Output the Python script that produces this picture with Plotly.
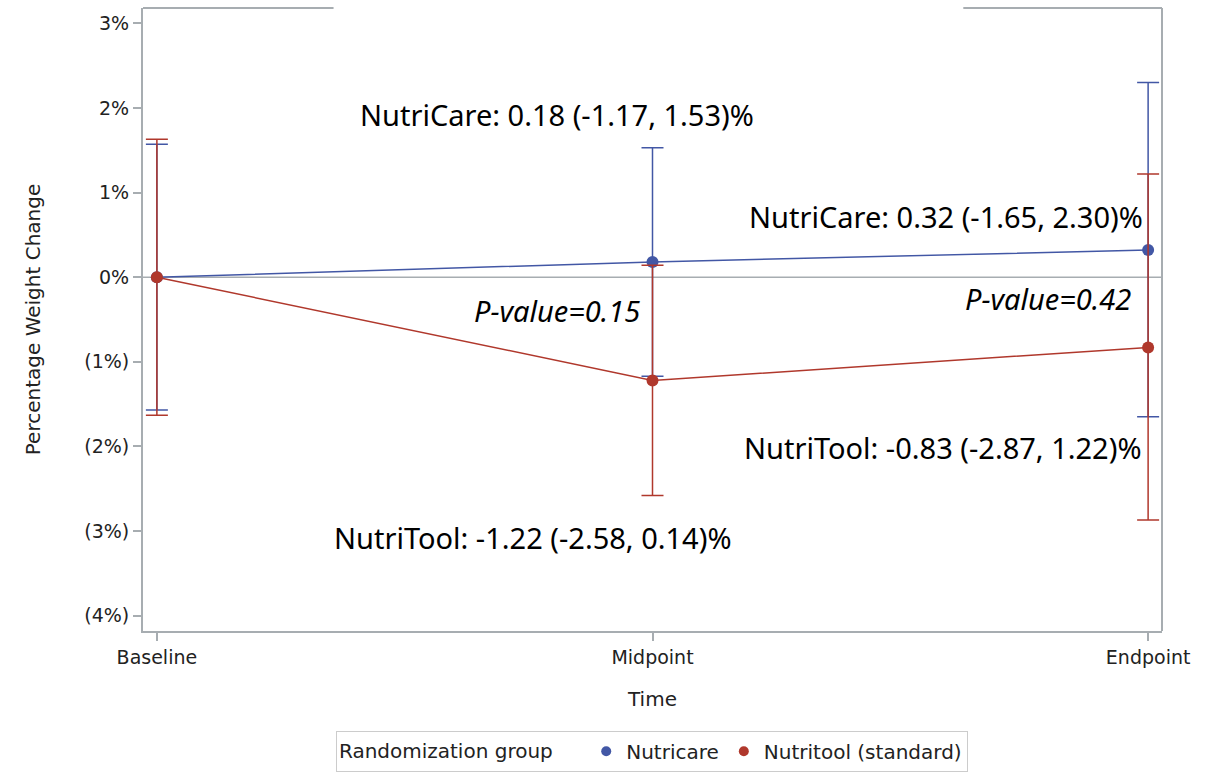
import plotly.graph_objects as go

times = ["Baseline", "Midpoint", "Endpoint"]
care_mean = [0.0, 0.18, 0.32]
care_lo = [-1.57, -1.17, -1.65]
care_hi = [1.57, 1.53, 2.30]
tool_mean = [0.0, -1.22, -0.83]
tool_lo = [-1.63, -2.58, -2.87]
tool_hi = [1.63, 0.14, 1.22]
yticks = [3, 2, 1, 0, -1, -2, -3, -4]
ytick_text = ["3%", "2%", "1%", "0%", "(1%)", "(2%)", "(3%)", "(4%)"]

BLUE = "#4257a5"
RED = "#b0382c"
GRID = "#a7adb1"
TXT = "#222222"
xs = [0, 1, 2]

fig = go.Figure()
series = [
    ("Nutricare", care_mean, care_lo, care_hi, BLUE),
    ("Nutritool (standard)", tool_mean, tool_lo, tool_hi, RED),
]
for name, m, lo, hi, col in series:
    fig.add_trace(go.Scatter(
        x=xs, y=m, name=name, mode="lines+markers", showlegend=False,
        line=dict(color=col, width=1.5),
        marker=dict(color=col, size=12),
        error_y=dict(type="data", symmetric=False,
                     array=[h - v for h, v in zip(hi, m)],
                     arrayminus=[v - l for l, v in zip(lo, m)],
                     color=col, thickness=1.5, width=11),
    ))
for name, m, lo, hi, col in series:
    fig.add_trace(go.Scatter(
        x=[None], y=[None], name=name, mode="markers",
        marker=dict(color=col, size=10),
    ))

fig.add_shape(type="line", xref="paper", yref="y", x0=0, x1=1, y0=0, y1=0,
              line=dict(color=GRID, width=1.5), layer="below")
# frame: right and split top
fig.add_shape(type="line", xref="paper", yref="paper", x0=1, x1=1, y0=0, y1=1,
              line=dict(color=GRID, width=2))
fig.add_shape(type="line", xref="paper", yref="paper", x0=0, x1=0.187, y0=1, y1=1,
              line=dict(color=GRID, width=2))
fig.add_shape(type="line", xref="paper", yref="paper", x0=0.805, x1=1, y0=1, y1=1,
              line=dict(color=GRID, width=2))

AF = "Noto Sans"
ann = [
    (0.807, 1.92, "NutriCare: 0.18 (-1.17, 1.53)%"),
    (1.592, 0.72, "NutriCare: 0.32 (-1.65, 2.30)%"),
    (0.807, -0.39, "<i>P-value=0.15</i>"),
    (1.798, -0.25, "<i>P-value=0.42</i>"),
    (1.586, -2.01, "NutriTool: -0.83 (-2.87, 1.22)%"),
    (0.759, -3.08, "NutriTool: -1.22 (-2.58, 0.14)%"),
]
for x, y, t in ann:
    fig.add_annotation(x=x, y=y, xref="x", yref="y", text=t, showarrow=False,
                       font=dict(family=AF, size=29, color="black"))

TF = "DejaVu Sans"
fig.update_layout(
    width=1214, height=774,
    margin=dict(l=143, r=52, t=8, b=143),
    paper_bgcolor="white", plot_bgcolor="white",
    font=dict(family=TF, color=TXT),
    showlegend=True,
    legend=dict(orientation="h", x=0.537, xref="container", xanchor="center",
                y=0.003, yref="container", yanchor="bottom",
                title=dict(text="Randomization group    ", font=dict(family=TF, size=20, color=TXT)),
                font=dict(family=TF, size=20, color=TXT),
                bordercolor="#cccccc", borderwidth=1,
                itemwidth=30, tracegroupgap=0),
    xaxis=dict(range=[-0.028, 2.028], tickvals=xs, ticktext=times,
               showline=True, linecolor=GRID, linewidth=2,
               ticks="outside", ticklen=8, tickcolor=GRID, tickwidth=1.5,
               showgrid=False, zeroline=False,
               tickfont=dict(family=TF, size=19, color=TXT),
               title=dict(text="Time", font=dict(family=TF, size=20, color=TXT), standoff=25)),
    yaxis=dict(range=[-4.18, 3.18], tickvals=yticks, ticktext=ytick_text,
               showline=True, linecolor=GRID, linewidth=2,
               ticks="outside", ticklen=8, tickcolor=GRID, tickwidth=1.5,
               showgrid=False, zeroline=False,
               tickfont=dict(family=TF, size=19, color=TXT),
               title=dict(text="Percentage Weight Change", font=dict(family=TF, size=20, color=TXT),
                          standoff=38)),
)

fig.write_html("out.html")
